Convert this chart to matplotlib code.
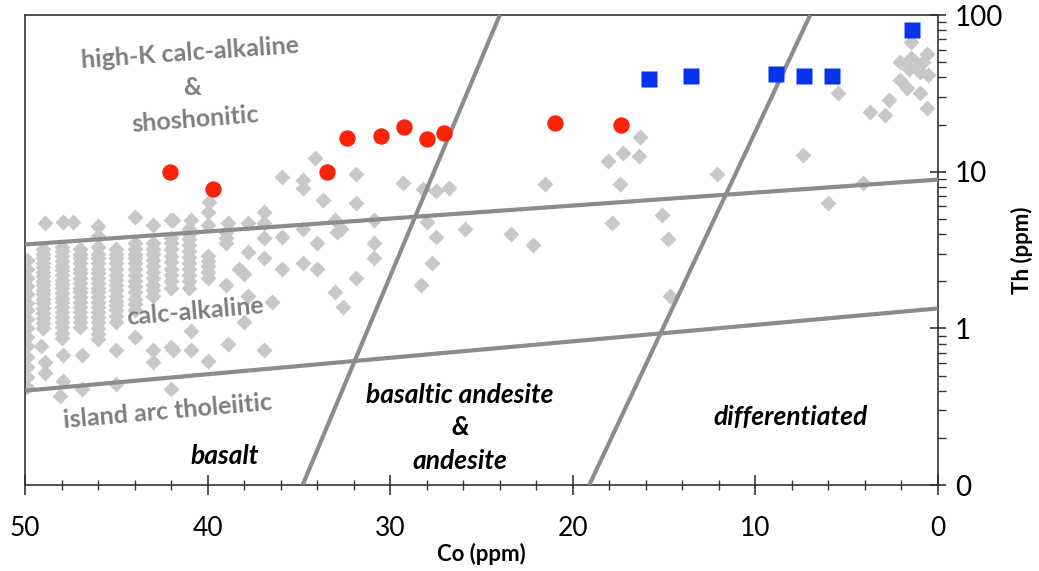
import matplotlib
matplotlib.use("Agg")
import matplotlib.pyplot as plt
from matplotlib.ticker import FixedLocator, FixedFormatter, LogLocator, MultipleLocator, NullFormatter

plt.rcParams['font.family'] = ['Lato', 'DejaVu Sans']

# global arc compilation (grey diamonds), dense columns at integer Co
dense_co = [49.9, 49, 48, 47, 46, 45, 44, 43, 42, 41, 40, 39]
dense_th = [
    [2.75, 2.4, 2.1, 1.85, 1.65, 1.45, 1.3, 1.15, 1.0, 0.88, 0.77, 0.66, 0.57, 0.49, 0.42],
    [3.2, 3.0, 2.8, 2.6, 2.45, 2.3, 2.15, 2.0, 1.88, 1.76, 1.65, 1.55, 1.45, 1.35, 1.26, 1.17, 1.08, 1.0],
    [3.3, 3.1, 2.9, 2.7, 2.5, 2.35, 2.2, 2.05, 1.92, 1.8, 1.68, 1.57, 1.47, 1.37, 1.28, 1.19, 1.1, 1.02, 0.94, 0.87],
    [3.2, 3.0, 2.8, 2.6, 2.4, 2.25, 2.1, 1.95, 1.82, 1.7, 1.58, 1.47, 1.37, 1.27, 1.18, 1.1, 1.02],
    [3.3, 3.0, 2.8, 2.6, 2.4, 2.25, 2.1, 1.95, 1.82, 1.7, 1.58, 1.47, 1.37, 1.27, 1.18, 1.1, 1.0, 0.92, 0.85],
    [3.2, 3.0, 2.8, 2.6, 2.4, 2.2, 2.05, 1.9, 1.75, 1.62, 1.5, 1.4, 1.3, 1.2, 1.1],
    [3.5, 3.2, 3.0, 2.8, 2.6, 2.4, 2.2, 2.0, 1.85, 1.7, 1.55, 1.42, 1.3, 0.88],
    [3.5, 3.2, 3.0, 2.75, 2.5, 2.3, 2.1, 1.9, 1.75, 1.6],
    [3.8, 3.5, 3.2, 2.9, 2.65, 2.4, 2.2, 2.0, 1.8],
    [4.3, 4.0, 3.7, 3.4, 3.1, 2.85, 2.6, 2.4, 2.2, 2.0, 1.8],
    [2.9, 2.7, 2.5, 2.3, 2.1],
    [4.1, 3.8, 3.5],
]

sparse_co = [34.1, 35.9, 34.8, 34.8, 33.7, 39.9, 40, 40, 41.9, 40.9, 38.9, 37.8, 36.9, 36.9, 36.9,
             35.9, 34.8, 34.0, 33.0, 32.9, 37.8, 36.9, 35.9, 34.8, 34.0, 38.3, 38.0, 39.0, 37.8, 36.5,
             38.0, 38.9, 36.9, 40.9, 40.9, 41.9, 40, 33.0, 32.6, 31.9, 31.9, 29.3, 28.2, 27.5, 26.8,
             30.9, 28.0, 27.5, 25.9, 23.4, 22.2, 30.9, 30.9, 27.7, 31.9, 28.3, 32.7, 16.3, 17.25, 16.4,
             18.1, 17.4, 21.5, 12.1, 15.1, 17.85, 14.8, 14.7, 7.4, 6.0, 4.1, 1.5, 2.1, 1.5, 1.15,
             0.8, 0.6, 1.6, 1.0, 0.55, 2.1, 1.7, 1.0, 0.6, 2.7, 3.7, 2.9, 5.5, 47.9, 47.4,
             46, 46, 44, 43, 42, 48.9, 49.1, 48.9, 48.9, 47.9, 46.9, 47.9, 45, 45, 43,
             43, 42, 48.1, 46.9, 42]
sparse_th = [12.3, 9.3, 8.9, 7.9, 6.6, 6.4, 5.5, 4.6, 4.9, 4.9, 4.7, 4.7, 5.5, 4.7, 3.8,
             3.85, 4.3, 3.5, 4.9, 4.15, 3.05, 2.83, 2.38, 2.63, 2.38, 2.38, 2.21, 1.9, 1.6, 1.47,
             1.09, 0.79, 0.73, 0.96, 0.73, 0.73, 0.62, 1.7, 1.36, 9.6, 6.35, 8.5, 7.7, 7.5, 7.9,
             4.9, 4.8, 3.85, 4.3, 4.0, 3.4, 3.5, 2.83, 2.63, 2.11, 1.9, 4.3, 16.7, 13.2, 12.6,
             11.7, 8.3, 8.3, 9.6, 5.3, 4.7, 3.7, 1.6, 12.8, 6.35, 8.5, 67, 50, 53, 47,
             50, 56, 45, 43, 41.5, 38.5, 34, 32, 25.6, 28.8, 24, 23, 32, 4.8, 4.8,
             4.5, 3.9, 5.1, 4.6, 4.9, 4.7, 0.77, 0.61, 0.52, 0.68, 0.68, 0.46, 0.73, 0.44, 0.73,
             0.61, 0.76, 0.37, 0.41, 0.41]

# this study
red_co = [42.06, 39.7, 33.46, 32.37, 30.5, 29.24, 27.98, 27.05, 20.97, 17.36]
red_th = [9.9, 7.7, 9.9, 16.5, 17.0, 19.4, 16.2, 17.7, 20.5, 19.9]
blue_co = [15.83, 13.53, 8.87, 7.34, 5.8, 1.42]
blue_th = [39.1, 40.9, 42.1, 40.9, 40.9, 80.3]

# field boundaries (Co, Th end points)
boundaries = [
    ([50, 0], [3.43, 8.9]),
    ([50, 0], [0.40, 1.34]),
    ([34.8, 24.0], [0.1, 100]),
    ([19.1, 7.0], [0.1, 100]),
]

fig = plt.figure(figsize=(10.39, 5.71), dpi=100)
ax = fig.add_axes([0.0241, 0.1506, 0.8787, 0.8231])

grey_co = []
grey_th = []
for c, col in zip(dense_co, dense_th):
    grey_co += [c] * len(col)
    grey_th += col
grey_co += sparse_co
grey_th += sparse_th

ax.plot(grey_co, grey_th, 'D', color='#c8c8c8', ms=7.8, mec='none', zorder=2)
for xs, ys in boundaries:
    ax.plot(xs, ys, color='#8c8c8c', lw=3, solid_capstyle='butt', zorder=3)
ax.plot(red_co, red_th, 'o', color='#fa2208', ms=11.8, mec='none', zorder=4)
ax.plot(blue_co, blue_th, 's', color='#0533ee', ms=11.5, mec='none', zorder=4)

ax.set_yscale('log')
ax.set_xlim(50, 0)
ax.set_ylim(0.1, 100)

ax.yaxis.tick_right()
ax.yaxis.set_label_position('right')
ax.yaxis.set_major_locator(FixedLocator([0.1, 1, 10, 100]))
ax.yaxis.set_major_formatter(FixedFormatter(['0', '1', '10', '100']))
ax.yaxis.set_minor_locator(LogLocator(base=10, subs=range(2, 10)))
ax.yaxis.set_minor_formatter(NullFormatter())
ax.xaxis.set_major_locator(MultipleLocator(10))
ax.xaxis.set_minor_locator(MultipleLocator(2))

ax.tick_params(axis='x', which='major', direction='inout', length=14, width=1.2, labelsize=19, pad=15,
               color='#333333')
ax.tick_params(axis='x', which='minor', direction='inout', length=7, width=1, color='#333333')
ax.tick_params(axis='y', which='major', direction='inout', length=12, width=1.2, labelsize=20, pad=6,
               color='#333333', left=False, right=True)
ax.tick_params(axis='y', which='minor', direction='out', length=6, width=1, color='#333333',
               left=False, right=True)
for s in ax.spines.values():
    s.set_color('#333333')
    s.set_linewidth(1.2)

ax.set_xlabel('Co (ppm)', fontsize=16, fontweight='bold', labelpad=2)
ax.set_ylabel('Th (ppm)', fontsize=16, fontweight='bold', labelpad=6)

grey = '#7f7f7f'
ax.text(40.96, 57.3, 'high-K calc-alkaline', color=grey, fontsize=18, fontweight='bold',
        rotation=4, ha='center', va='center')
ax.text(40.85, 34.3, '&', color=grey, fontsize=18, fontweight='bold', ha='center', va='center')
ax.text(40.7, 21.4, 'shoshonitic', color=grey, fontsize=18, fontweight='bold',
        rotation=4.5, ha='center', va='center')
ax.text(40.7, 1.28, 'calc-alkaline', color=grey, fontsize=18, fontweight='bold',
        rotation=5, ha='center', va='center')
ax.text(42.17, 0.296, 'island arc tholeiitic', color=grey, fontsize=18, fontweight='bold',
        rotation=5, ha='center', va='center')

ax.text(39.05, 0.153, 'basalt', fontsize=19, fontweight='bold', style='italic', ha='center', va='center')
ax.text(26.18, 0.374, 'basaltic andesite', fontsize=19, fontweight='bold', style='italic',
        ha='center', va='center')
ax.text(26.18, 0.234, '&', fontsize=19, fontweight='bold', style='italic', ha='center', va='center')
ax.text(26.18, 0.142, 'andesite', fontsize=19, fontweight='bold', style='italic', ha='center', va='center')
ax.text(8.1, 0.271, 'differentiated', fontsize=19, fontweight='bold', style='italic',
        ha='center', va='center')

fig.savefig('out.png', dpi=100)
